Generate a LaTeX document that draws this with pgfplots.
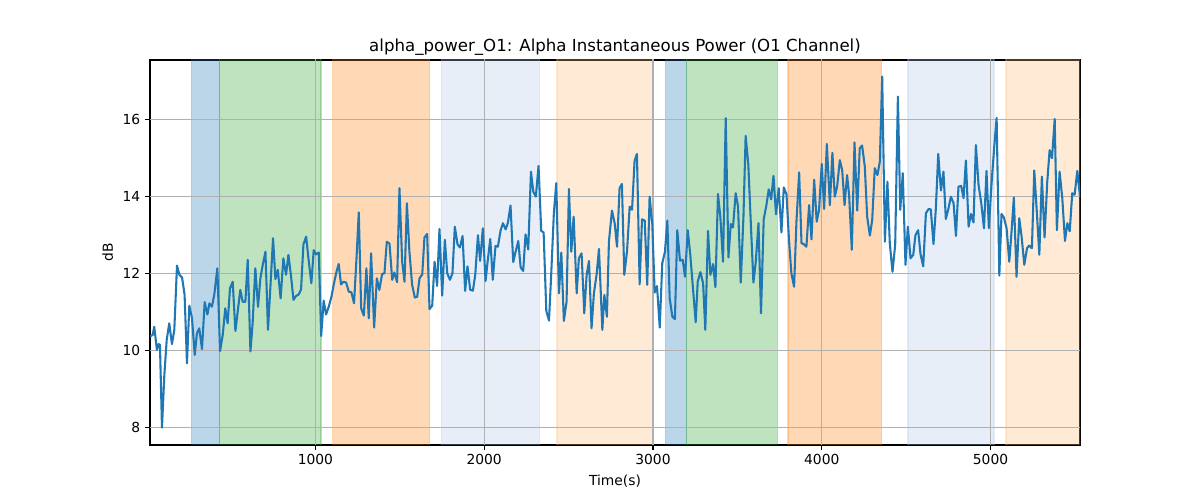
\documentclass[border=0pt]{standalone}
\usepackage{pgfplots}
\usepackage{pgfplotstable}
\pgfplotsset{compat=1.18}
\usepackage{fontspec}
\setmainfont{DejaVu Sans}
\definecolor{tabblue}{HTML}{1F77B4}
\definecolor{tabgreen}{HTML}{2CA02C}
\definecolor{taborange}{HTML}{FF7F0E}
\definecolor{ltblue}{HTML}{AEC7E8}
\definecolor{ltorange}{HTML}{FFBB78}
\definecolor{gridgray}{HTML}{B0B0B0}

\pgfplotstableread{
t v
20 10.36
36 10.40
45 10.61
61 10.01
71 10.16
79 10.14
91 7.99
105 9.36
119 10.27
134 10.70
150 10.16
164 10.53
180 12.20
194 11.96
210 11.89
225 11.44
239 9.66
253 11.16
269 10.83
285 9.88
298 10.44
312 10.57
328 10.03
344 11.25
360 10.93
372 11.22
387 11.13
401 11.45
419 12.13
435 9.98
451 10.40
466 11.09
480 10.70
494 11.61
510 11.78
526 10.50
542 11.09
555 11.57
569 11.26
585 11.26
599 12.35
615 9.97
628 10.70
644 12.13
660 11.13
674 11.87
688 12.22
704 12.56
719 10.53
735 11.78
749 12.91
763 11.85
777 12.09
794 11.35
810 12.39
826 11.96
840 12.48
856 11.91
870 11.31
885 11.41
901 11.45
915 11.58
929 12.75
945 12.95
961 12.30
976 11.74
990 12.60
1004 12.49
1020 12.54
1034 10.37
1049 11.29
1063 10.93
1079 11.13
1095 11.39
1111 11.76
1125 12.04
1138 12.24
1152 11.71
1166 11.78
1182 11.76
1198 11.52
1213 11.51
1229 11.22
1243 12.35
1257 13.58
1271 11.09
1287 10.90
1302 12.13
1316 10.83
1330 12.52
1348 10.59
1364 11.87
1379 11.57
1395 11.98
1409 12.00
1423 12.82
1439 12.77
1455 11.83
1468 12.02
1484 11.77
1498 14.21
1514 12.30
1528 11.78
1542 13.82
1557 12.56
1573 11.70
1589 11.37
1603 11.39
1617 11.87
1633 11.97
1646 12.93
1662 13.02
1676 11.07
1692 11.16
1706 12.30
1721 11.67
1735 13.15
1751 11.42
1767 12.87
1781 12.00
1797 11.83
1812 12.00
1826 13.21
1842 12.75
1856 12.67
1872 12.97
1887 11.54
1901 12.18
1917 11.57
1933 11.55
1947 11.96
1963 12.99
1976 12.32
1992 13.17
2008 11.80
2022 12.37
2036 12.89
2051 11.83
2067 12.71
2081 12.69
2097 13.11
2111 13.30
2127 13.14
2140 13.30
2156 13.76
2172 12.29
2186 12.56
2202 12.84
2216 12.15
2231 12.06
2245 13.01
2261 12.62
2277 14.64
2291 14.12
2306 13.99
2322 14.79
2338 13.10
2352 13.06
2368 11.02
2384 10.77
2397 11.97
2413 13.58
2427 14.34
2443 11.48
2457 12.54
2472 10.76
2488 11.26
2502 14.19
2516 12.56
2530 13.47
2548 11.48
2561 12.39
2577 12.52
2593 10.96
2607 11.96
2621 12.32
2636 10.57
2650 11.48
2666 11.97
2680 12.63
2700 10.53
2712 11.44
2727 10.87
2739 12.82
2757 13.63
2773 13.30
2787 12.69
2802 14.21
2816 14.32
2830 11.96
2846 12.56
2862 13.73
2876 13.65
2891 14.92
2905 15.10
2921 11.71
2935 13.40
2951 13.37
2966 11.70
2980 13.99
2996 13.27
3010 11.50
3024 11.67
3040 10.59
3055 12.26
3071 12.56
3085 13.37
3099 11.35
3115 10.87
3130 10.81
3144 13.12
3160 12.33
3176 12.35
3190 11.91
3206 13.12
3221 12.48
3237 11.61
3253 10.73
3265 11.78
3281 12.03
3297 11.74
3310 10.53
3326 13.10
3340 11.96
3356 12.24
3370 11.64
3385 14.06
3399 13.47
3415 12.30
3431 16.03
3447 12.41
3461 13.28
3474 13.19
3490 14.08
3504 13.73
3520 11.76
3536 13.47
3549 15.57
3565 14.81
3581 13.17
3595 11.76
3609 12.30
3625 13.30
3640 10.96
3656 13.40
3672 13.77
3686 14.18
3700 13.92
3714 14.53
3729 13.53
3745 14.21
3761 13.06
3775 14.23
3791 14.05
3806 12.85
3820 12.00
3836 11.65
3850 13.34
3866 14.62
3880 12.78
3893 12.76
3909 12.69
3925 13.77
3939 12.88
3955 14.43
3970 13.34
3984 13.65
4000 14.84
4014 13.67
4030 15.36
4048 13.77
4063 15.13
4077 13.99
4091 14.25
4107 14.94
4121 14.68
4135 13.77
4150 14.55
4162 14.03
4178 12.61
4194 15.40
4210 13.63
4225 15.25
4239 15.32
4255 14.77
4269 13.47
4285 12.98
4299 13.39
4314 14.73
4330 14.55
4344 14.90
4358 17.11
4374 12.82
4389 14.38
4403 12.78
4419 12.04
4435 12.74
4451 16.59
4465 13.65
4480 14.60
4496 12.22
4510 13.21
4526 12.39
4542 12.48
4555 12.99
4571 13.12
4585 12.50
4601 12.18
4617 13.56
4633 13.67
4646 13.66
4662 12.76
4676 13.69
4690 15.10
4706 14.15
4721 14.64
4735 13.41
4751 13.69
4765 13.99
4781 13.82
4795 12.97
4810 14.25
4826 14.27
4840 13.95
4854 14.93
4870 13.21
4884 13.54
4899 13.32
4913 15.33
4929 14.29
4945 13.82
4961 13.17
4976 14.66
4990 13.17
5006 14.34
5022 15.29
5036 16.04
5052 11.94
5065 13.54
5079 13.45
5095 13.17
5111 12.30
5125 13.12
5138 13.97
5154 11.91
5170 13.43
5184 12.95
5200 12.22
5216 12.65
5229 12.72
5245 12.65
5259 14.67
5275 13.53
5289 12.48
5304 14.51
5320 12.93
5336 14.38
5350 15.20
5364 14.99
5380 16.01
5393 13.12
5409 14.64
5425 13.95
5441 12.84
5455 13.30
5469 13.09
5484 14.08
5498 14.04
5514 14.66
5530 13.99
}\datatable

\begin{document}
\begin{tikzpicture}
\useasboundingbox (0,0) rectangle (12in,5in);
\begin{axis}[
  at={(1.5in,0.55in)}, anchor=south west,
  scale only axis, width=9.3in, height=3.85in,
  xmin=20, xmax=5530, ymin=7.54, ymax=17.54,
  xtick={1000,2000,3000,4000,5000},
  ytick={8,10,12,14,16},
  axis line style={line width=0.8pt},
  tick style={black, line width=0.8pt},
  tick align=outside, major tick length=3.5pt,
  xtick pos=left, ytick pos=left,
  /pgf/number format/assume math mode=true,
  /pgf/number format/1000 sep={},
  ticklabel style={font=\fontsize{10}{12}\selectfont},
  label style={font=\fontsize{10}{12}\selectfont},
  title style={font=\fontsize{12}{14}\selectfont, yshift=-6.5pt},
  title={alpha\_power\_O1: Alpha Instantaneous Power (O1 Channel)},
  xlabel={Time(s)}, ylabel={dB},
  vspan/.style={fill=#1, fill opacity=0.3, draw=#1, draw opacity=0.3, line width=1pt},
  gridline/.style={gridgray, line width=0.8pt},
]
\addplot[vspan=tabblue] coordinates {(267,0) (433,0) (433,20) (267,20) (267,0)};
\addplot[vspan=tabgreen] coordinates {(433,0) (1034,0) (1034,20) (433,20) (433,0)};
\addplot[vspan=taborange] coordinates {(1103,0) (1676,0) (1676,20) (1103,20) (1103,0)};
\addplot[vspan=ltblue] coordinates {(1747,0) (2328,0) (2328,20) (1747,20) (1747,0)};
\addplot[vspan=ltorange] coordinates {(2431,0) (3000,0) (3000,20) (2431,20) (2431,0)};
\addplot[vspan=tabblue] coordinates {(3075,0) (3198,0) (3198,20) (3075,20) (3075,0)};
\addplot[vspan=tabgreen] coordinates {(3198,0) (3737,0) (3737,20) (3198,20) (3198,0)};
\addplot[vspan=taborange] coordinates {(3800,0) (4354,0) (4354,20) (3800,20) (3800,0)};
\addplot[vspan=ltblue] coordinates {(4510,0) (5020,0) (5020,20) (4510,20) (4510,0)};
\addplot[vspan=ltorange] coordinates {(5091,0) (5700,0) (5700,20) (5091,20) (5091,0)};
% grid lines above the spans, below the data line
\addplot[gridline] coordinates {(1000,0) (1000,20)};
\addplot[gridline] coordinates {(2000,0) (2000,20)};
\addplot[gridline] coordinates {(3000,0) (3000,20)};
\addplot[gridline] coordinates {(4000,0) (4000,20)};
\addplot[gridline] coordinates {(5000,0) (5000,20)};
\addplot[gridline] coordinates {(0,8) (6000,8)};
\addplot[gridline] coordinates {(0,10) (6000,10)};
\addplot[gridline] coordinates {(0,12) (6000,12)};
\addplot[gridline] coordinates {(0,14) (6000,14)};
\addplot[gridline] coordinates {(0,16) (6000,16)};
\addplot[tabblue, line width=1.5pt, line join=round, mark=none] table[x=t, y=v] {\datatable};
\end{axis}
\end{tikzpicture}
\end{document}
